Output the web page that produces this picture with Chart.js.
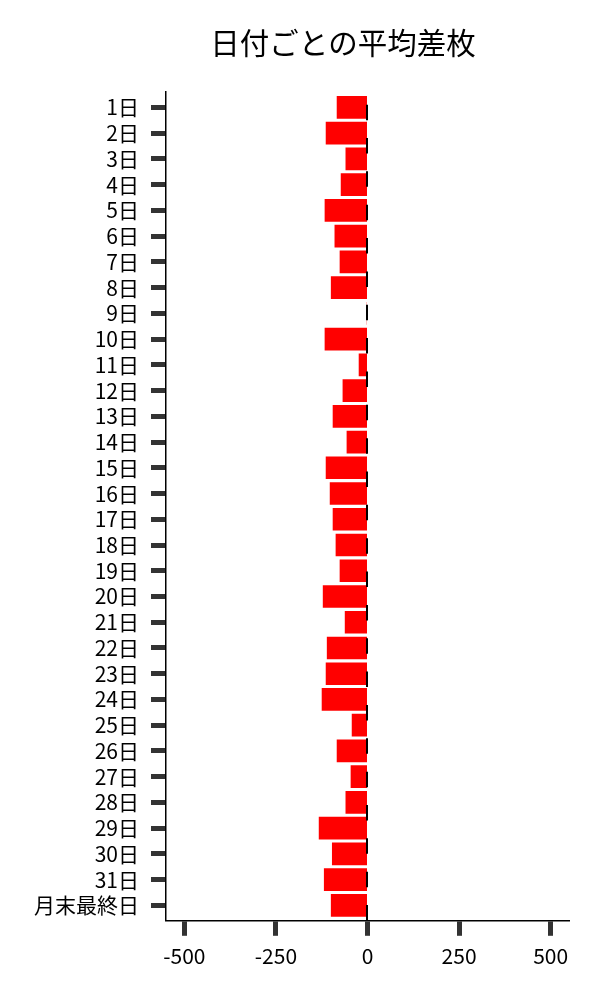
<!DOCTYPE html>
<html>
<head>
<meta charset="utf-8">
<script src="https://cdn.jsdelivr.net/npm/chart.js@4/dist/chart.umd.min.js"></script>
<style>
  body { margin: 0; background: #fff; }
  #wrap { width: 600px; height: 1000px; }
</style>
</head>
<body>
<div id="wrap"><canvas id="bar-chart-canvas"></canvas></div>
<script>
// 日付ごとの平均差枚
const days = ['1日', '2日', '3日', '4日', '5日', '6日', '7日', '8日', '9日', '10日',
  '11日', '12日', '13日', '14日', '15日', '16日', '17日', '18日', '19日', '20日',
  '21日', '22日', '23日', '24日', '25日', '26日', '27日', '28日', '29日', '30日',
  '31日', '月末最終日'];
const avgDiff = [-84, -114, -60, -73, -117, -90, -76, -100, -2, -117,
  -24, -68, -95, -57, -114, -103, -95, -87, -76, -122,
  -62, -111, -114, -125, -43, -84, -46, -60, -133, -97,
  -119, -100];
const xTicks = [-500, -250, 0, 250, 500];
const titleText = '日付ごとの平均差枚';

const FONT = "'Noto Sans CJK JP', 'Noto Sans', sans-serif";

// タイトルとゼロの点線
const extras = {
  id: 'extras',
  afterDatasetsDraw(chart) {
    const { ctx, chartArea, scales } = chart;
    const x0 = Math.round(scales.x.getPixelForValue(0));
    ctx.save();
    ctx.strokeStyle = '#000';
    ctx.lineWidth = 2;
    ctx.setLineDash([15.5, 17.85]);
    ctx.lineDashOffset = 20.7;
    ctx.beginPath();
    ctx.moveTo(x0, chartArea.top);
    ctx.lineTo(x0, chartArea.bottom);
    ctx.stroke();
    ctx.restore();
  },
  afterDraw(chart) {
    const { ctx } = chart;
    ctx.save();
    ctx.fillStyle = '#000';
    ctx.font = '29.5px ' + FONT;
    ctx.textAlign = 'center';
    ctx.textBaseline = 'middle';
    ctx.fillText(titleText, 343, 43);
    ctx.restore();
  },
};

const barChart = new Chart(document.getElementById('bar-chart-canvas').getContext('2d'), {
  type: 'bar',
  data: {
    labels: days,
    datasets: [{
      data: avgDiff,
      backgroundColor: '#ff0000',
      borderWidth: 0,
      categoryPercentage: 1,
      barPercentage: 0.88,
    }],
  },
  options: {
    indexAxis: 'y',
    responsive: true,
    maintainAspectRatio: false,
    animation: false,
    layout: { padding: { top: 92, right: 31, left: 22, bottom: 23 } },
    plugins: {
      legend: { display: false },
      title: { display: false },
      tooltip: { enabled: false },
    },
    scales: {
      x: {
        min: -550,
        max: 550,
        afterBuildTicks(scale) {
          scale.ticks = xTicks.map((v) => ({ value: v }));
        },
        grid: {
          drawOnChartArea: false,
          drawTicks: true,
          tickLength: 15,
          tickWidth: 5,
          tickColor: '#333',
        },
        border: { display: true, color: '#000', width: 1.5 },
        ticks: {
          color: '#000',
          padding: 8,
          maxRotation: 0,
          font: { family: FONT, size: 21 },
        },
      },
      y: {
        offset: true,
        // 上下の余白を少し広げる (0.6 カテゴリ分)
        afterBuildTicks(scale) {
          scale._startValue = scale.min - 0.6;
          scale._valueRange = scale.max - scale.min + 1.2;
        },
        grid: {
          offset: false,
          drawOnChartArea: false,
          drawTicks: true,
          tickLength: 15,
          tickWidth: 5,
          tickColor: '#333',
        },
        border: { display: true, color: '#000', width: 1.5 },
        ticks: {
          color: '#000',
          padding: 12,
          autoSkip: false,
          font: { family: FONT, size: 21 },
        },
      },
    },
  },
  plugins: [extras],
});
barChart.update();
</script>
</body>
</html>
